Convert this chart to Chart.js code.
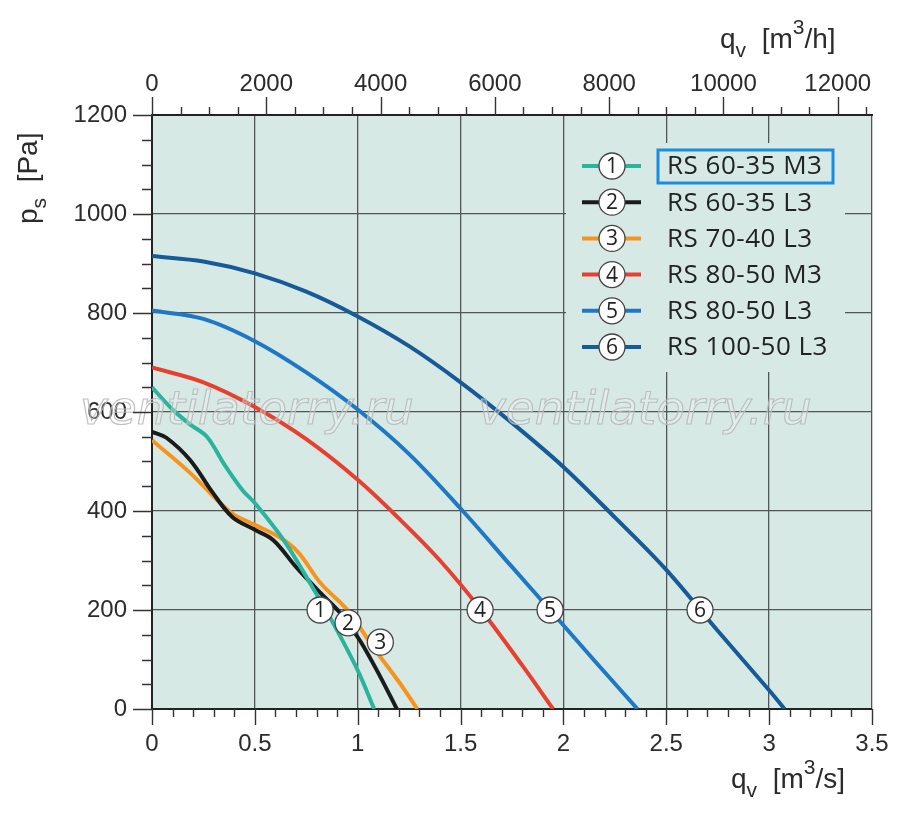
<!DOCTYPE html>
<html>
<head>
<meta charset="utf-8">
<script src="https://cdn.jsdelivr.net/npm/chart.js@4.4.1/dist/chart.umd.min.js"></script>
<style>
  html, body { margin: 0; padding: 0; background: #fff; }
  #wrap { width: 900px; height: 816px; }
</style>
</head>
<body>
<div id="wrap"><canvas id="fanChart" width="900" height="816"></canvas></div>
<script>
// fan curves, [q m3/s, ps Pa]
const rs6035M3 = [[0, 650], [0.1, 605], [0.185, 575], [0.267, 550], [0.35, 495], [0.44, 442], [0.5, 416],
                  [0.64, 341], [0.78, 246], [0.88, 174], [1.0, 78], [1.08, 0]];
const rs6035L3 = [[0, 560], [0.07, 548], [0.185, 503], [0.297, 436], [0.39, 388], [0.5, 362], [0.59, 341],
                  [0.7, 287], [0.82, 234], [0.915, 194], [1.01, 139], [1.11, 65], [1.19, 0]];
const rs7040L3 = [[0, 543], [0.185, 477], [0.38, 398], [0.5, 372], [0.62, 347], [0.71, 317], [0.82, 254],
                  [0.95, 200], [1.075, 125], [1.205, 52], [1.29, 0]];
const rs8050M3 = [[0, 690], [0.25, 660], [0.5, 610], [0.75, 545], [1.0, 463], [1.2, 385], [1.4, 300],
                  [1.6, 200], [1.8, 88], [1.95, 0]];
const rs8050L3 = [[0, 805], [0.25, 788], [0.5, 743], [0.75, 680], [1.0, 605], [1.25, 515], [1.5, 405],
                  [1.75, 287], [1.935, 200], [2.15, 98], [2.36, 0]];
const rs10050L3 = [[0, 915], [0.25, 904], [0.5, 880], [0.75, 843], [1.0, 793], [1.25, 733], [1.5, 660],
                   [1.75, 578], [2.0, 489], [2.25, 387], [2.5, 281], [2.75, 158], [3.0, 38], [3.075, 0]];

const seriesNames = ['RS 60-35 M3', 'RS 60-35 L3', 'RS 70-40 L3', 'RS 80-50 M3', 'RS 80-50 L3', 'RS 100-50 L3'];
const seriesData = [rs6035M3, rs6035L3, rs7040L3, rs8050M3, rs8050L3, rs10050L3];
const seriesColors = ['#2bb39d', '#1b1b1b', '#f7941e', '#e8402f', '#1e78c4', '#175a98'];

// where the circled numbers sit on the curves
const curveLabelAt = [[0.817, 200], [0.953, 174], [1.11, 135], [1.595, 200], [1.935, 200], [2.664, 200]];

// axes
const qTicks = [0, 0.5, 1, 1.5, 2, 2.5, 3, 3.5];
const qhTicks = [0, 2000, 4000, 6000, 8000, 10000, 12000];
const psTicks = [0, 200, 400, 600, 800, 1000, 1200];
const qMax = 3.5;
const qhMax = 12600;
const psMax = 1200;

const plotBg = '#d6e9e5';
const gridColor = '#555';
const textColor = '#2b2b2b';
const tickFont = { family: 'Liberation Sans, Arial, sans-serif', size: 24 };

// text with sub/superscripts: parts = [text, size, dy]
function drawParts(ctx, x, y, parts) {
    let cx = x;
    parts.forEach(([t, size, dy]) => {
        ctx.font = size + 'px "Liberation Sans", Arial, sans-serif';
        ctx.fillText(t, cx, y + dy);
        cx += ctx.measureText(t).width;
    });
}

function noEdgePadding(s) {
    s.paddingLeft = 0;
    s.paddingRight = 0;
    s.paddingTop = 0;
    s.paddingBottom = 0;
}

const bgPlugin = {
    id: 'plotBg',
    beforeDraw(chart) {
        const { ctx, chartArea: a } = chart;
        ctx.save();
        ctx.fillStyle = plotBg;
        ctx.fillRect(a.left, a.top, a.right - a.left, a.bottom - a.top);
        ctx.restore();
    }
};

const tickPlugin = {
    id: 'tickMarks',
    afterDraw(chart) {
        const { ctx, chartArea: a } = chart;
        const sx = chart.scales.x, sx2 = chart.scales.x2, sy = chart.scales.y;
        ctx.save();
        ctx.strokeStyle = '#333';
        ctx.lineWidth = 1.4;
        ctx.beginPath();
        // bottom: every 0.1, long at 0.5
        for (let i = 0; i <= 35; i++) {
            const px = Math.round(sx.getPixelForValue(i / 10)) + 0.5;
            const len = i % 5 === 0 ? 16 : 8;
            ctx.moveTo(px, a.bottom);
            ctx.lineTo(px, a.bottom + len);
        }
        // top: every 500 m3/h, long at 2000
        for (let v = 0; v <= 12500; v += 500) {
            const px = Math.round(sx2.getPixelForValue(v)) + 0.5;
            const len = v % 2000 === 0 ? 18 : 8;
            ctx.moveTo(px, a.top);
            ctx.lineTo(px, a.top - len);
        }
        // left: every 50 Pa, long at 200
        for (let v = 0; v <= 1200; v += 50) {
            const py = Math.round(sy.getPixelForValue(v)) + 0.5;
            const len = v % 200 === 0 ? 19 : 10;
            ctx.moveTo(a.left, py);
            ctx.lineTo(a.left - len, py);
        }
        ctx.stroke();

        // axis titles
        ctx.fillStyle = textColor;
        ctx.textBaseline = 'alphabetic';
        ctx.textAlign = 'left';
        drawParts(ctx, 720, 48, [['q', 28, 0], ['v', 21, 9], ['  [m', 28, 0], ['3', 21, -14], ['/h]', 28, 0]]);
        drawParts(ctx, 731, 788, [['q', 28, 0], ['v', 21, 9], ['  [m', 28, 0], ['3', 21, -14], ['/s]', 28, 0]]);
        ctx.translate(37, 224);
        ctx.rotate(-Math.PI / 2);
        drawParts(ctx, 0, 0, [['p', 28, 0], ['s', 21, 9], ['  [Pa]', 28, 0]]);
        ctx.restore();
    }
};

function drawCircleNum(ctx, x, y, n) {
    ctx.beginPath();
    ctx.arc(x, y, 13, 0, Math.PI * 2);
    ctx.fillStyle = '#fff';
    ctx.fill();
    ctx.lineWidth = 1.3;
    ctx.strokeStyle = '#444';
    ctx.stroke();
    ctx.fillStyle = '#222';
    ctx.font = '21px "Open Sans", "Liberation Sans", sans-serif';
    ctx.textAlign = 'center';
    ctx.textBaseline = 'middle';
    ctx.fillText(String(n), x, y + 1);
}

const overlayPlugin = {
    id: 'overlay',
    afterDatasetsDraw(chart) {
        const { ctx } = chart;
        const sx = chart.scales.x, sy = chart.scales.y;
        ctx.save();

        // watermark
        ctx.font = 'oblique 47px "DejaVu Sans", sans-serif';
        ctx.textAlign = 'left';
        ctx.textBaseline = 'alphabetic';
        ctx.fillStyle = 'rgba(255,255,255,0.25)';
        ctx.strokeStyle = 'rgba(185,185,185,0.9)';
        ctx.lineWidth = 1.2;
        ['ventilatorry.ru', 'ventilatorry.ru'].forEach((t, i) => {
            const x = i === 0 ? 80 : 478;
            ctx.fillText(t, x, 424);
            ctx.strokeText(t, x, 424);
        });

        // circled numbers on curves
        curveLabelAt.forEach(([q, p], i) => {
            drawCircleNum(ctx, sx.getPixelForValue(q), sy.getPixelForValue(p), i + 1);
        });

        // legend panel
        ctx.fillStyle = plotBg;
        ctx.fillRect(566, 143, 279, 229);
        seriesNames.forEach((name, i) => {
            const y = 166 + i * 36.2;
            ctx.strokeStyle = seriesColors[i];
            ctx.lineWidth = 4;
            ctx.beginPath();
            ctx.moveTo(582, y);
            ctx.lineTo(641, y);
            ctx.stroke();
            drawCircleNum(ctx, 612, y, i + 1);
            ctx.fillStyle = '#222';
            ctx.font = '26px "Open Sans", "Liberation Sans", sans-serif';
            ctx.letterSpacing = '0.5px';
            ctx.textAlign = 'left';
            ctx.textBaseline = 'middle';
            ctx.fillText(name, 667, y + 1);
            ctx.letterSpacing = '0px';
        });
        ctx.strokeStyle = '#1b8de0';
        ctx.lineWidth = 3;
        ctx.strokeRect(658, 150, 175, 33);
        ctx.restore();
    }
};

new Chart(document.getElementById('fanChart'), {
    type: 'line',
    data: {
        datasets: seriesData.map((pts, i) => ({
            label: seriesNames[i],
            data: pts.map(([q, p]) => ({ x: q, y: p })),
            borderColor: seriesColors[i],
            borderWidth: 4,
            pointRadius: 0,
            fill: false,
            tension: 0.35,
        }))
    },
    options: {
        responsive: false,
        animation: false,
        layout: { padding: { left: 0, right: 28, top: 0, bottom: 0 } },
        plugins: {
            legend: { display: false },
            tooltip: { enabled: false }
        },
        scales: {
            x: {
                type: 'linear',
                position: 'bottom',
                min: 0,
                max: qMax,
                afterBuildTicks: s => { s.ticks = qTicks.map(v => ({ value: v })); },
                afterFit: s => { s.height = 107; noEdgePadding(s); },
                grid: { color: gridColor, lineWidth: 1.3, drawTicks: false },
                border: { display: true, color: '#222', width: 2 },
                ticks: {
                    autoSkip: false, maxRotation: 0, padding: 21,
                    color: textColor, font: tickFont,
                    callback: v => String(v)
                }
            },
            x2: {
                type: 'linear',
                position: 'top',
                min: 0,
                max: qhMax,
                afterBuildTicks: s => { s.ticks = qhTicks.map(v => ({ value: v })); },
                afterFit: s => { s.height = 115; noEdgePadding(s); },
                grid: { drawOnChartArea: false, drawTicks: false },
                border: { display: true, color: '#222', width: 2 },
                ticks: {
                    autoSkip: false, maxRotation: 0, padding: 16,
                    color: textColor, font: tickFont,
                    callback: v => String(v)
                }
            },
            y: {
                type: 'linear',
                position: 'left',
                min: 0,
                max: psMax,
                afterBuildTicks: s => { s.ticks = psTicks.map(v => ({ value: v })); },
                afterFit: s => { s.width = 152; noEdgePadding(s); },
                grid: { color: gridColor, lineWidth: 1.3, drawTicks: false },
                border: { display: true, color: '#222', width: 2 },
                ticks: {
                    autoSkip: false, padding: 25,
                    color: textColor, font: tickFont,
                    callback: v => String(v)
                }
            }
        }
    },
    plugins: [bgPlugin, tickPlugin, overlayPlugin]
});
</script>
</body>
</html>
